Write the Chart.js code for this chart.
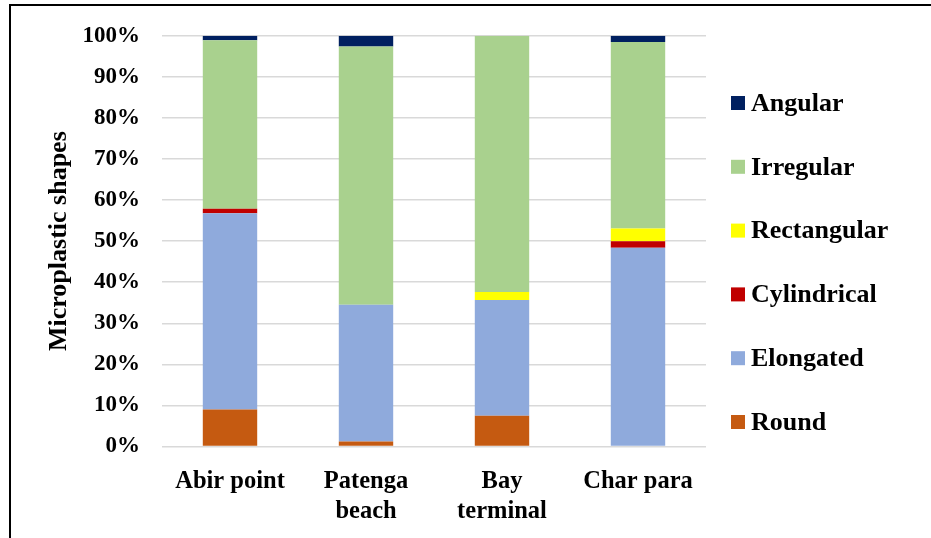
<!DOCTYPE html>
<html>
<head>
<meta charset="utf-8">
<script src="https://cdn.jsdelivr.net/npm/chart.js@4.4.1/dist/chart.umd.min.js"></script>
<style>
  html, body { margin: 0; padding: 0; background: #fff; }
  #wrap { position: relative; width: 931px; height: 538px; overflow: hidden; }
  #frame { position: absolute; left: 9px; top: 4px; right: -10px; bottom: -10px;
           border-left: 2px solid #000; border-top: 2px solid #000; pointer-events: none; }
  canvas { position: absolute; left: 0; top: 0; }
</style>
</head>
<body>
<div id="wrap">
  <canvas id="chart" width="931" height="538"></canvas>
  <div id="frame"></div>
</div>
<script>
// Sampling sites
const categories = [['Abir point'], ['Patenga', 'beach'], ['Bay', 'terminal'], ['Char para']];

// Share of each microplastic shape (%) per site
const round       = [9.0, 1.2, 7.5, 0.0];
const elongated   = [47.8, 33.3, 28.2, 48.4];
const cylindrical = [1.1, 0.0, 0.0, 1.6];
const rectangular = [0.0, 0.0, 1.9, 3.1];
const irregular   = [41.0, 62.9, 62.4, 45.4];
const angular     = [1.1, 2.6, 0.0, 1.5];

const seriesNames = ['Round', 'Elongated', 'Cylindrical', 'Rectangular', 'Irregular', 'Angular'];
const seriesData  = [round, elongated, cylindrical, rectangular, irregular, angular];
const seriesColors = ['#C55A11', '#8FAADC', '#C00000', '#FFFF00', '#A9D18E', '#002060'];

const yTicks = [0, 10, 20, 30, 40, 50, 60, 70, 80, 90, 100];

const FONT = "'Liberation Serif', 'Times New Roman', serif";

// Legend drawn in a column to the right of the plot, topmost series first
const sideLegend = {
  id: 'sideLegend',
  afterDraw(chart) {
    const ctx = chart.ctx;
    const ds = chart.data.datasets;
    const x = 731, top = 103, step = 63.8, box = 14;
    ctx.save();
    ctx.font = 'bold 26px ' + FONT;
    ctx.textBaseline = 'middle';
    ctx.textAlign = 'left';
    for (let k = 0; k < ds.length; k++) {
      const d = ds[ds.length - 1 - k];
      const cy = top + k * step;
      ctx.fillStyle = d.backgroundColor;
      ctx.fillRect(x, cy - box / 2, box, box);
      ctx.fillStyle = '#000';
      ctx.fillText(d.label, x + 20, cy + 1);
    }
    ctx.restore();
  }
};

new Chart(document.getElementById('chart'), {
  type: 'bar',
  data: {
    labels: categories,
    datasets: seriesNames.map((name, i) => ({
      label: name,
      data: seriesData[i],
      backgroundColor: seriesColors[i],
      borderWidth: 0,
      categoryPercentage: 0.8,
      barPercentage: 0.5
    }))
  },
  options: {
    responsive: false,
    animation: false,
    layout: { padding: { left: 0, top: 35, right: 225, bottom: 0 } },
    plugins: {
      legend: { display: false },
      tooltip: { enabled: false }
    },
    scales: {
      x: {
        stacked: true,
        grid: { display: false },
        border: { display: false },
        ticks: {
          color: '#000',
          font: { family: FONT, size: 24.5, weight: 'bold', lineHeight: 1.22 },
          padding: 12,
          maxRotation: 0
        },
        afterFit(scale) { scale.height = 91.5; }
      },
      y: {
        stacked: true,
        min: 0,
        max: 100,
        afterBuildTicks(scale) { scale.ticks = yTicks.map(v => ({ value: v })); },
        grid: { color: '#d9d9d9', lineWidth: 1.5, drawTicks: false },
        border: { display: false },
        ticks: {
          color: '#000',
          font: { family: FONT, size: 23, weight: 'bold' },
          padding: 22,
          callback: v => v + '%'
        },
        title: {
          display: true,
          text: 'Microplastic shapes',
          color: '#000',
          font: { family: FONT, size: 26, weight: 'bold' },
          padding: { top: 44, bottom: 0 }
        },
        afterFit(scale) { scale.width = 162; }
      }
    }
  },
  plugins: [sideLegend]
});
</script>
</body>
</html>
